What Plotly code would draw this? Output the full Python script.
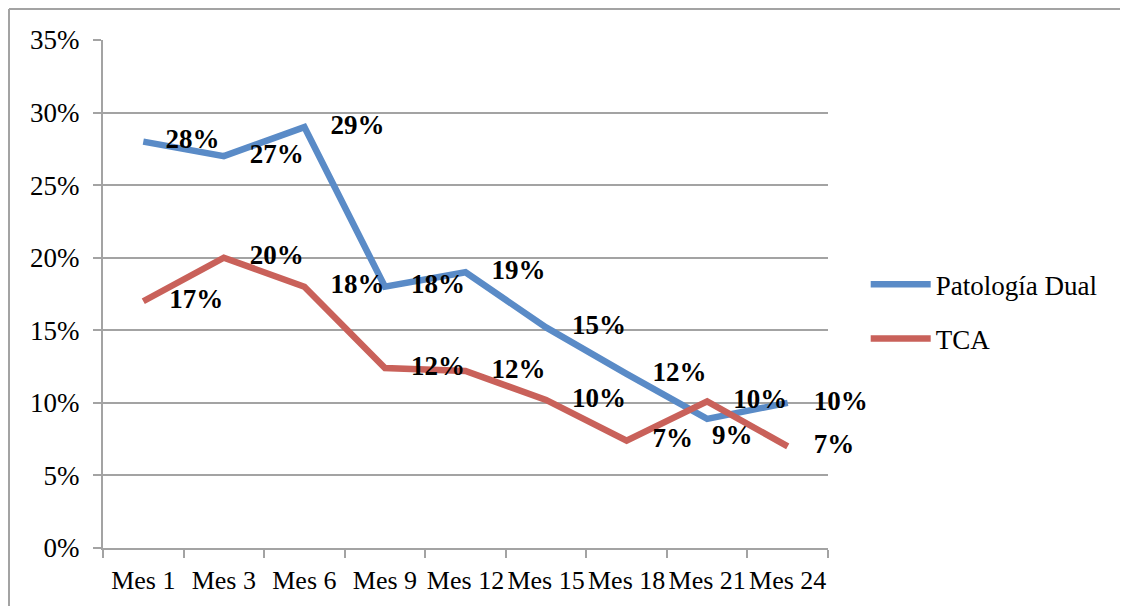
import plotly.graph_objects as go

meses = ["Mes 1", "Mes 3", "Mes 6", "Mes 9", "Mes 12", "Mes 15", "Mes 18", "Mes 21", "Mes 24"]
patologia_dual = [0.28, 0.27, 0.29, 0.18, 0.19, 0.152, 0.12, 0.089, 0.10]
tca = [0.17, 0.20, 0.18, 0.124, 0.122, 0.102, 0.074, 0.101, 0.070]
y_ticks = [0, 0.05, 0.10, 0.15, 0.20, 0.25, 0.30, 0.35]

FONT = "Liberation Serif"
GRAY = "#A3A3A3"
BLUE = "#5A8BC7"
RED = "#C9615A"

# label placement styles (per point)
blue_pos = ["middle right"] * 7 + ["bottom right", "middle right"]
blue_msize = [34, 40, 40, 40, 40, 40, 40, 6, 40]
red_pos = ["middle right"] * 9
red_msize = [40] * 9

fig = go.Figure()
for name, vals, col, grp, pos, ms in [
    ("Patología Dual", patologia_dual, BLUE, "a", blue_pos, blue_msize),
    ("TCA", tca, RED, "b", red_pos, red_msize),
]:
    fig.add_trace(go.Scatter(
        x=meses, y=vals, name=name, legendgroup=grp,
        mode="lines+markers+text",
        line=dict(color=col, width=6.5),
        marker=dict(size=ms, color="rgba(0,0,0,0)", line=dict(width=0)),
        texttemplate="%{y:.0%}", textposition=pos,
        textfont=dict(family=FONT, size=27, color="black", weight="bold"),
        hoverinfo="skip", cliponaxis=False,
    ))

# page body has an 8px margin: figure occupies x 8..1128, y 8..606
PL, PR, PT, PB = 103, 828, 40, 548
fx = lambda px: (px - PL) / (PR - PL)
fy = lambda py: (PB - py) / (PB - PT)

fig.update_layout(
    width=1120, height=598,
    margin=dict(l=PL - 8, r=1128 - PR, t=PT - 8, b=606 - PB, autoexpand=False),
    paper_bgcolor="white", plot_bgcolor="white",
    font=dict(family=FONT, size=27, color="black"),
    showlegend=True,
    legend=dict(x=1.052, y=0.465, xanchor="left", yanchor="middle",
                font=dict(family=FONT, size=27, color="black"),
                tracegroupgap=16, traceorder="grouped",
                bgcolor="rgba(0,0,0,0)", itemwidth=60),
    xaxis=dict(type="category", showgrid=False, showline=True, linecolor=GRAY, linewidth=2,
               ticks="outside", tickson="boundaries", ticklen=8, tickwidth=2, tickcolor=GRAY,
               tickangle=0, automargin=False,
               ticklabelstandoff=8, tickfont=dict(family=FONT, size=26, color="black"),
               range=[-0.5, 8.5], fixedrange=True),
    yaxis=dict(range=[0, 0.35], tickvals=y_ticks, tickformat=".0%", showgrid=True,
               gridcolor=GRAY, gridwidth=2, showline=True, linecolor=GRAY, linewidth=2,
               ticks="outside", ticklen=8, tickwidth=2, tickcolor=GRAY, zeroline=False,
               automargin=False,
               ticklabelstandoff=8, tickfont=dict(family=FONT, size=27, color="black")),
    shapes=[
        dict(type="line", xref="paper", yref="paper", x0=fx(9), x1=fx(1135),
             y0=fy(9), y1=fy(9), line=dict(color=GRAY, width=2)),
        dict(type="line", xref="paper", yref="paper", x0=fx(9), x1=fx(9),
             y0=fy(9), y1=fy(615), line=dict(color=GRAY, width=2)),
    ],
)

fig.write_html("out.html")
